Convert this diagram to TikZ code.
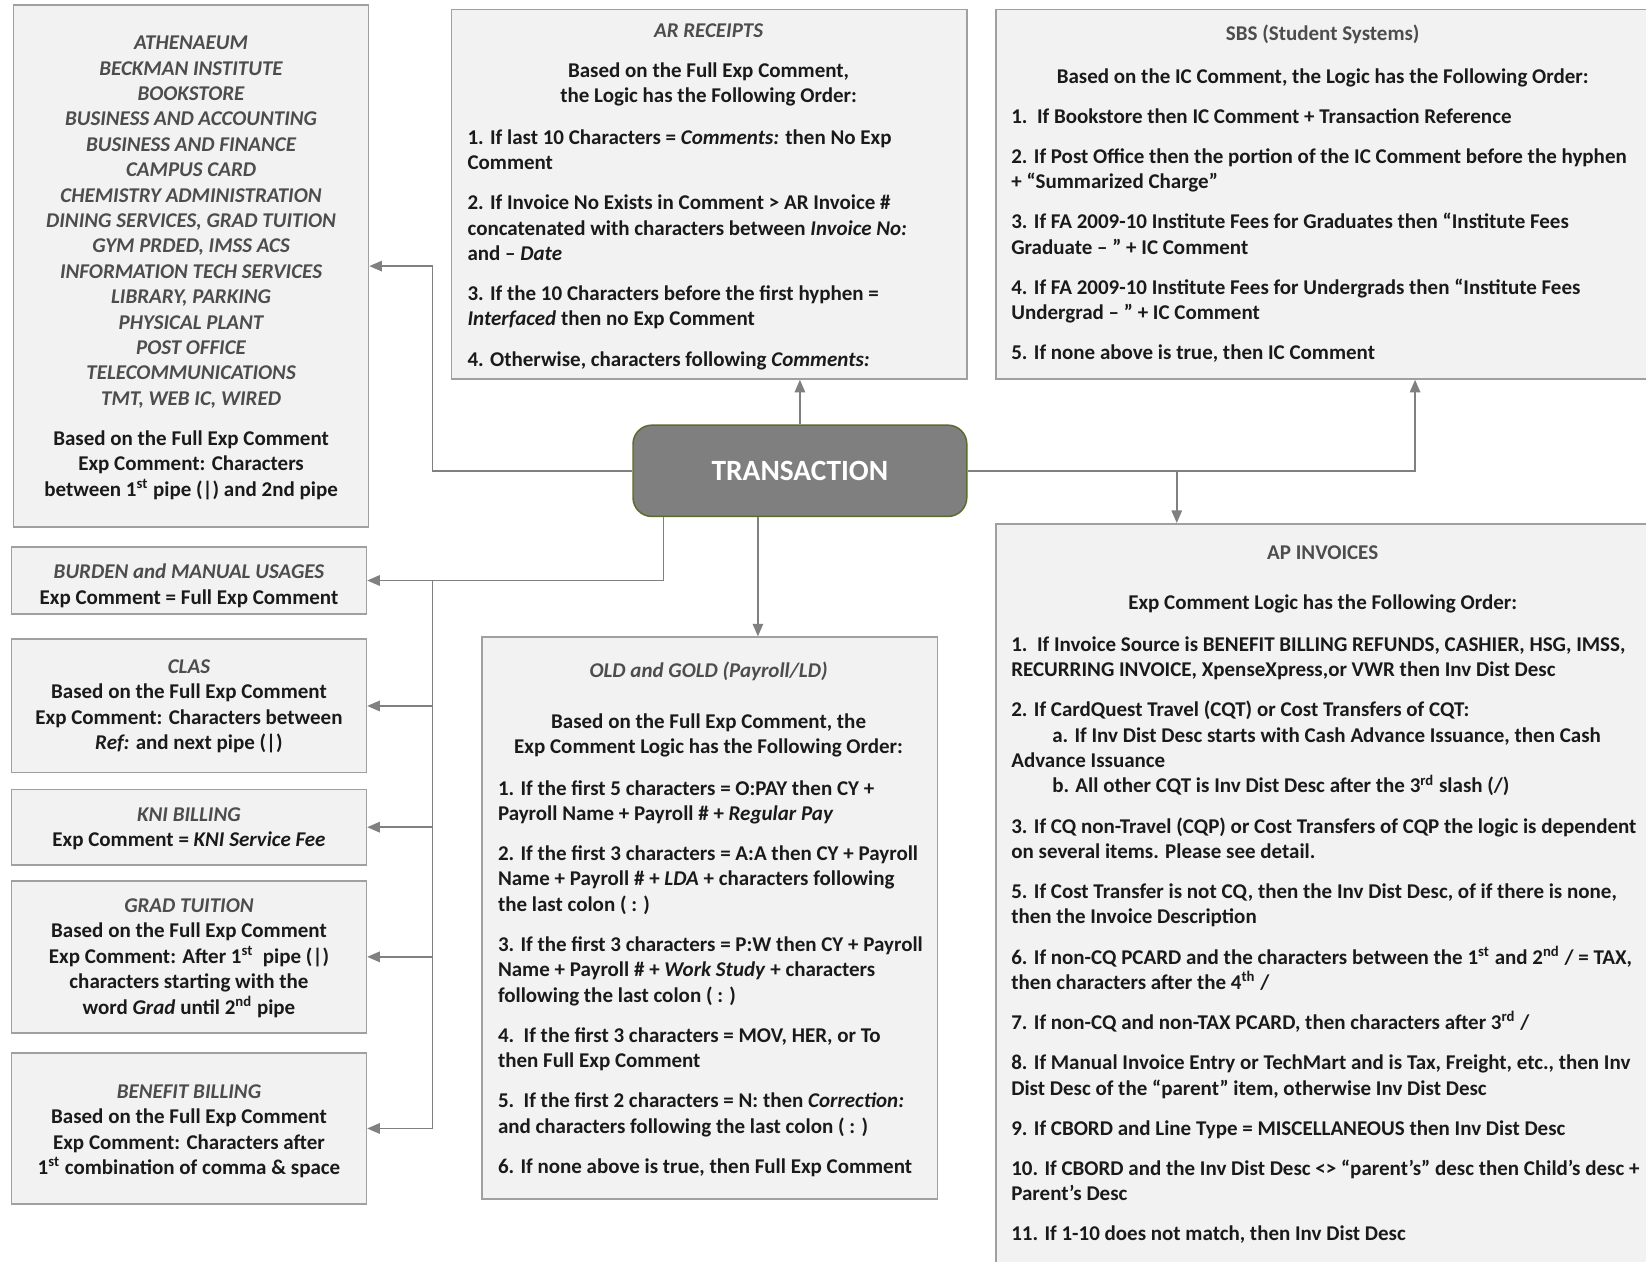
\documentclass[tikz,border=0pt]{standalone}
\usepackage{fontspec}
\setmainfont{Carlito}
\usetikzlibrary{arrows.meta,fit}
\definecolor{boxfill}{HTML}{F2F2F2}
\definecolor{boxline}{HTML}{A0A0A0}
\definecolor{ttlgray}{HTML}{4D4D4D}
\definecolor{connc}{HTML}{808080}
\definecolor{transfill}{HTML}{7F7F7F}
\definecolor{transline}{HTML}{5A6B2E}
\definecolor{bodytxt}{HTML}{1A1A1A}
\newcommand{\mytitle}[1]{{\color{ttlgray}\itshape #1}}
\newcommand{\mytitleup}[1]{{\color{ttlgray}#1}}
\begin{document}
\begin{tikzpicture}[x=0.5pt,y=-0.5pt,
  panel/.style={draw=boxline,fill=boxfill,line width=0.8pt,inner sep=0pt},
  trans/.style={draw=transline,fill=transfill,line width=0.7pt,rounded corners=9pt,
    minimum width=159pt,minimum height=43.5pt,inner sep=0pt,text=white,
    font=\fontsize{14}{16}\selectfont\bfseries},
  txt/.style={inner sep=0pt,font=\fontsize{10}{12.1}\selectfont\bfseries,text=bodytxt},
  ctxt/.style={txt,align=center,anchor=north},
  ltxt/.style={txt,align=left,anchor=north west},
  conn/.style={draw=connc,line width=0.7pt},
  arr/.style={conn,-{Triangle[length=6pt,width=5pt]}}]
\useasboundingbox (0,0) rectangle (1568,1202);
\clip (0,0) rectangle (1568,1202);

% boxes
\node[panel, fit={(13,5) (351,502)}] (b1) {};
\node[panel, fit={(430,9) (921,361)}] (ar) {};
\node[panel, fit={(949,9) (1580,361)}] (sbs) {};
\node[panel, fit={(949,499) (1580,1220)}] (ap) {};
\node[panel, fit={(11,521) (349,585)}] (bur) {};
\node[panel, fit={(11,609) (349,736)}] (clas) {};
\node[panel, fit={(11,752) (349,824)}] (kni) {};
\node[panel, fit={(11,839) (349,984)}] (grad) {};
\node[panel, fit={(11,1003) (349,1147)}] (ben) {};
\node[panel, fit={(459,607) (893,1142)}] (old) {};
\node[trans] (tr) at (762,448.5) {TRANSACTION};

% texts
\node[ctxt] (b1t) at (182,30) {\strut\mytitle{ATHENAEUM}\\
\mytitle{BECKMAN INSTITUTE}\\
\mytitle{BOOKSTORE}\\
\mytitle{BUSINESS AND ACCOUNTING}\\
\mytitle{BUSINESS AND FINANCE}\\
\mytitle{CAMPUS CARD}\\
\mytitle{CHEMISTRY ADMINISTRATION}\\
\mytitle{DINING SERVICES, GRAD TUITION}\\
\mytitle{GYM PRDED, IMSS ACS}\\
\mytitle{INFORMATION TECH SERVICES}\\
\mytitle{LIBRARY, PARKING}\\
\mytitle{PHYSICAL PLANT}\\
\mytitle{POST OFFICE}\\
\mytitle{TELECOMMUNICATIONS}\\
\mytitle{TMT, WEB IC, WIRED}\\[7pt]
Based on the Full Exp Comment\\
Exp Comment: Characters\\
between 1\textsuperscript{st} pipe (|) and 2nd pipe};

\node[ctxt] (art) at (675,18) {\strut\mytitle{AR RECEIPTS}\\[7pt]
Based on the Full Exp Comment,\\
the Logic has the Following Order:};
\node[ltxt] (ari) at (445,120) {\strut 1. If last 10 Characters = \textit{Comments:} then No Exp\\
Comment\\[7pt]
2. If Invoice No Exists in Comment > AR Invoice \#\\
concatenated with characters between \textit{Invoice No:}\\
and – \textit{Date}\\[7pt]
3. If the 10 Characters before the first hyphen =\\
\textit{Interfaced} then no Exp Comment\\[7pt]
4. Otherwise, characters following \textit{Comments:}};

\node[ctxt] (sbst) at (1260,21) {\strut\mytitleup{SBS (Student Systems)}\\[8.5pt]
Based on the IC Comment, the Logic has the Following Order:};
\node[ltxt] (sbsi) at (963,100) {\strut 1.\ \ If Bookstore then IC Comment + Transaction Reference\\[7pt]
2. If Post Office then the portion of the IC Comment before the hyphen\\
+ “Summarized Charge”\\[7pt]
3. If FA 2009-10 Institute Fees for Graduates then “Institute Fees\\
Graduate – ” + IC Comment\\[7pt]
4. If FA 2009-10 Institute Fees for Undergrads then “Institute Fees\\
Undergrad – ” + IC Comment\\[7pt]
5. If none above is true, then IC Comment};

\node[ctxt] (oldt) at (675,628) {\strut\mytitle{OLD and GOLD (Payroll/LD)}\\[12pt]
Based on the Full Exp Comment, the\\
Exp Comment Logic has the Following Order:};
\node[ltxt] (oldi) at (474,740) {\strut 1. If the first 5 characters = O:PAY then CY +\\
Payroll Name + Payroll \# + \textit{Regular Pay}\\[7pt]
2. If the first 3 characters = A:A then CY + Payroll\\
Name + Payroll \# + \textit{LDA} + characters following\\
the last colon ( : )\\[7pt]
3. If the first 3 characters = P:W then CY + Payroll\\
Name + Payroll \# + \textit{Work Study} + characters\\
following the last colon ( : )\\[7pt]
4.\ \ If the first 3 characters = MOV, HER, or To\\
then Full Exp Comment\\[7pt]
5.\ \ If the first 2 characters = N: then \textit{Correction:}\\
and characters following the last colon ( : )\\[7pt]
6. If none above is true, then Full Exp Comment};

\node[ctxt] (apt) at (1260,516) {\strut\mytitleup{AP INVOICES}\\[11.5pt]
Exp Comment Logic has the Following Order:};
\node[ltxt] (api) at (963,603) {\strut 1.\ \ If Invoice Source is BENEFIT BILLING REFUNDS, CASHIER, HSG, IMSS,\\
RECURRING INVOICE, XpenseXpress,or VWR then Inv Dist Desc\\[7pt]
2. If CardQuest Travel (CQT) or Cost Transfers of CQT:\\
\hspace*{19.5pt}a. If Inv Dist Desc starts with Cash Advance Issuance, then Cash\\
Advance Issuance\\
\hspace*{19.5pt}b. All other CQT is Inv Dist Desc after the 3\textsuperscript{rd} slash (/)\\[7pt]
3. If CQ non-Travel (CQP) or Cost Transfers of CQP the logic is dependent\\
on several items. Please see detail.\\[7pt]
5. If Cost Transfer is not CQ, then the Inv Dist Desc, of if there is none,\\
then the Invoice Description\\[7pt]
6. If non-CQ PCARD and the characters between the 1\textsuperscript{st} and 2\textsuperscript{nd} / = TAX,\\
then characters after the 4\textsuperscript{th} /\\[7pt]
7. If non-CQ and non-TAX PCARD, then characters after 3\textsuperscript{rd} /\\[7pt]
8. If Manual Invoice Entry or TechMart and is Tax, Freight, etc., then Inv\\
Dist Desc of the “parent” item, otherwise Inv Dist Desc\\[7pt]
9. If CBORD and Line Type = MISCELLANEOUS then Inv Dist Desc\\[7pt]
10. If CBORD and the Inv Dist Desc <> “parent’s” desc then Child’s desc +\\
Parent’s Desc\\[7pt]
11. If 1-10 does not match, then Inv Dist Desc};

\node[ctxt] (burt) at (180,534) {\strut\mytitle{BURDEN and MANUAL USAGES}\\
Exp Comment = Full Exp Comment};
\node[ctxt] (clast) at (180,624) {\strut\mytitle{CLAS}\\
Based on the Full Exp Comment\\
Exp Comment: Characters between\\
\textit{Ref:} and next pipe (|)};
\node[ctxt] (knit) at (180,765) {\strut\mytitle{KNI BILLING}\\
Exp Comment = \textit{KNI Service Fee}};
\node[ctxt] (gradt) at (180,852) {\strut\mytitle{GRAD TUITION}\\
Based on the Full Exp Comment\\
Exp Comment: After 1\textsuperscript{st}\ \ pipe (|)\\
characters starting with the\\
word \textit{Grad} until 2\textsuperscript{nd} pipe};
\node[ctxt] (bent) at (180,1029) {\strut\mytitle{BENEFIT BILLING}\\
Based on the Full Exp Comment\\
Exp Comment: Characters after\\
1\textsuperscript{st} combination of comma \& space};

% connectors
\path (412,0) coordinate (lx) (632,0) coordinate (bx1) (722,0) coordinate (bx2)
      (1121,0) coordinate (apx) (1348,0) coordinate (sbx);
\draw[arr] (tr.west) -- (lx |- tr.west) |- (b1.east);
\draw[arr] (tr.north) -- (tr.north |- ar.south);
\draw[arr] (tr.east) -| (sbx |- sbs.south);
\draw[arr] (apx |- tr.east) -- (apx |- ap.north);
\draw[arr] (tr.south -| bx1) |- (bur.east);
\draw[conn] (lx |- bur.east) -- (lx |- ben.east);
\draw[arr] (lx |- clas.east) -- (clas.east);
\draw[arr] (lx |- kni.east) -- (kni.east);
\draw[arr] (lx |- grad.east) -- (grad.east);
\draw[arr] (lx |- ben.east) -- (ben.east);
\draw[arr] (tr.south -| bx2) -- (bx2 |- old.north);
\end{tikzpicture}
\end{document}
